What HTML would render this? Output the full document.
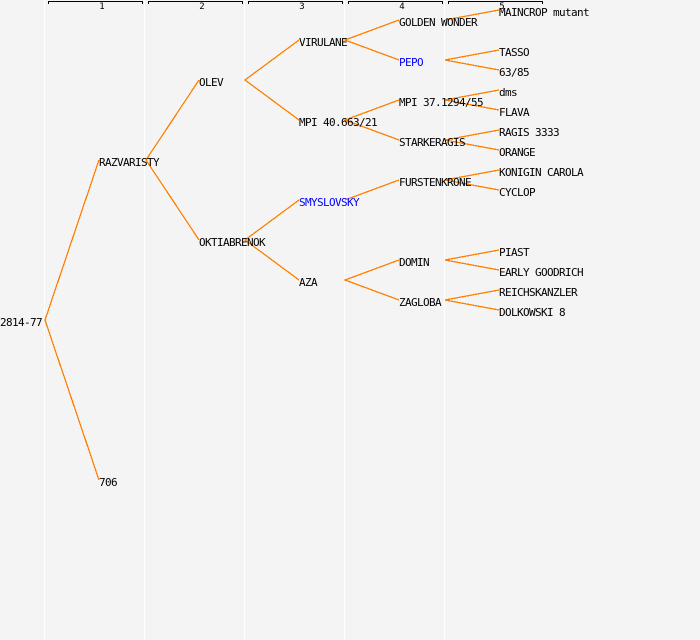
<!DOCTYPE html>
<html><head><meta charset="utf-8"><style>
html,body{margin:0;padding:0;background:#f4f4f4}
svg{display:block}
text{font-family:"DejaVu Sans Mono",monospace;font-size:11px;letter-spacing:-.62px;fill:#000}
.c{font-size:9px;letter-spacing:0;text-anchor:middle}
.b{fill:#00f}
</style></head><body>
<svg width="700" height="640" viewBox="0 0 700 640" xmlns="http://www.w3.org/2000/svg">
<rect width="700" height="640" fill="#f4f4f4"/>
<g fill="#fff"><rect x="44" y="0" width="1" height="640"/><rect x="144" y="0" width="1" height="640"/><rect x="244" y="0" width="1" height="640"/><rect x="344" y="0" width="1" height="640"/><rect x="444" y="0" width="1" height="640"/></g>
<g fill="none" stroke="#000" shape-rendering="crispEdges">
<path d="M48.5 4V1.5H142.5V4"/><path d="M148.5 4V1.5H242.5V4"/><path d="M248.5 4V1.5H342.5V4"/><path d="M348.5 4V1.5H442.5V4"/><path d="M448.5 4V1.5H542.5V4"/>
</g>
<g stroke="#ff8000" stroke-width="1.3" fill="none" shape-rendering="crispEdges">
<path d="M99 160L45 320L99 480"/>
<path d="M199 80L146 160L199 240"/>
<path d="M299 40L245 80L299 120"/>
<path d="M299 200L245 240L299 280"/>
<path d="M399 20L345 40L399 60"/>
<path d="M399 100L345 120L399 140"/>
<path d="M399 180L345 200"/>
<path d="M399 260L345 280L399 300"/>
<path d="M499 10L445 20"/>
<path d="M499 50L445 60L499 70"/>
<path d="M499 90L445 100L499 110"/>
<path d="M499 130L445 140L499 150"/>
<path d="M499 170L445 180L499 190"/>
<path d="M499 250L445 260L499 270"/>
<path d="M499 290L445 300L499 310"/>
</g>
<text class="c" x="102" y="9">1</text><text class="c" x="202" y="9">2</text><text class="c" x="302" y="9">3</text><text class="c" x="402" y="9">4</text><text class="c" x="502" y="9">5</text>
<text x="0" y="326">2814-77</text>
<text x="99" y="166">RAZVARISTY</text>
<text x="99" y="486">706</text>
<text x="199" y="86">OLEV</text>
<text x="199" y="246">OKTIABRENOK</text>
<text x="299" y="46">VIRULANE</text>
<text x="299" y="126">MPI 40.663/21</text>
<text x="299" y="206" class="b">SMYSLOVSKY</text>
<text x="299" y="286">AZA</text>
<text x="399" y="26">GOLDEN WONDER</text>
<text x="399" y="66" class="b">PEPO</text>
<text x="399" y="106">MPI 37.1294/55</text>
<text x="399" y="146">STARKERAGIS</text>
<text x="399" y="186">FURSTENKRONE</text>
<text x="399" y="266">DOMIN</text>
<text x="399" y="306">ZAGLOBA</text>
<text x="499" y="16">MAINCROP mutant</text>
<text x="499" y="56">TASSO</text>
<text x="499" y="76">63/85</text>
<text x="499" y="96">dms</text>
<text x="499" y="116">FLAVA</text>
<text x="499" y="136">RAGIS 3333</text>
<text x="499" y="156">ORANGE</text>
<text x="499" y="176">KONIGIN CAROLA</text>
<text x="499" y="196">CYCLOP</text>
<text x="499" y="256">PIAST</text>
<text x="499" y="276">EARLY GOODRICH</text>
<text x="499" y="296">REICHSKANZLER</text>
<text x="499" y="316">DOLKOWSKI 8</text>
</svg>
</body></html>
